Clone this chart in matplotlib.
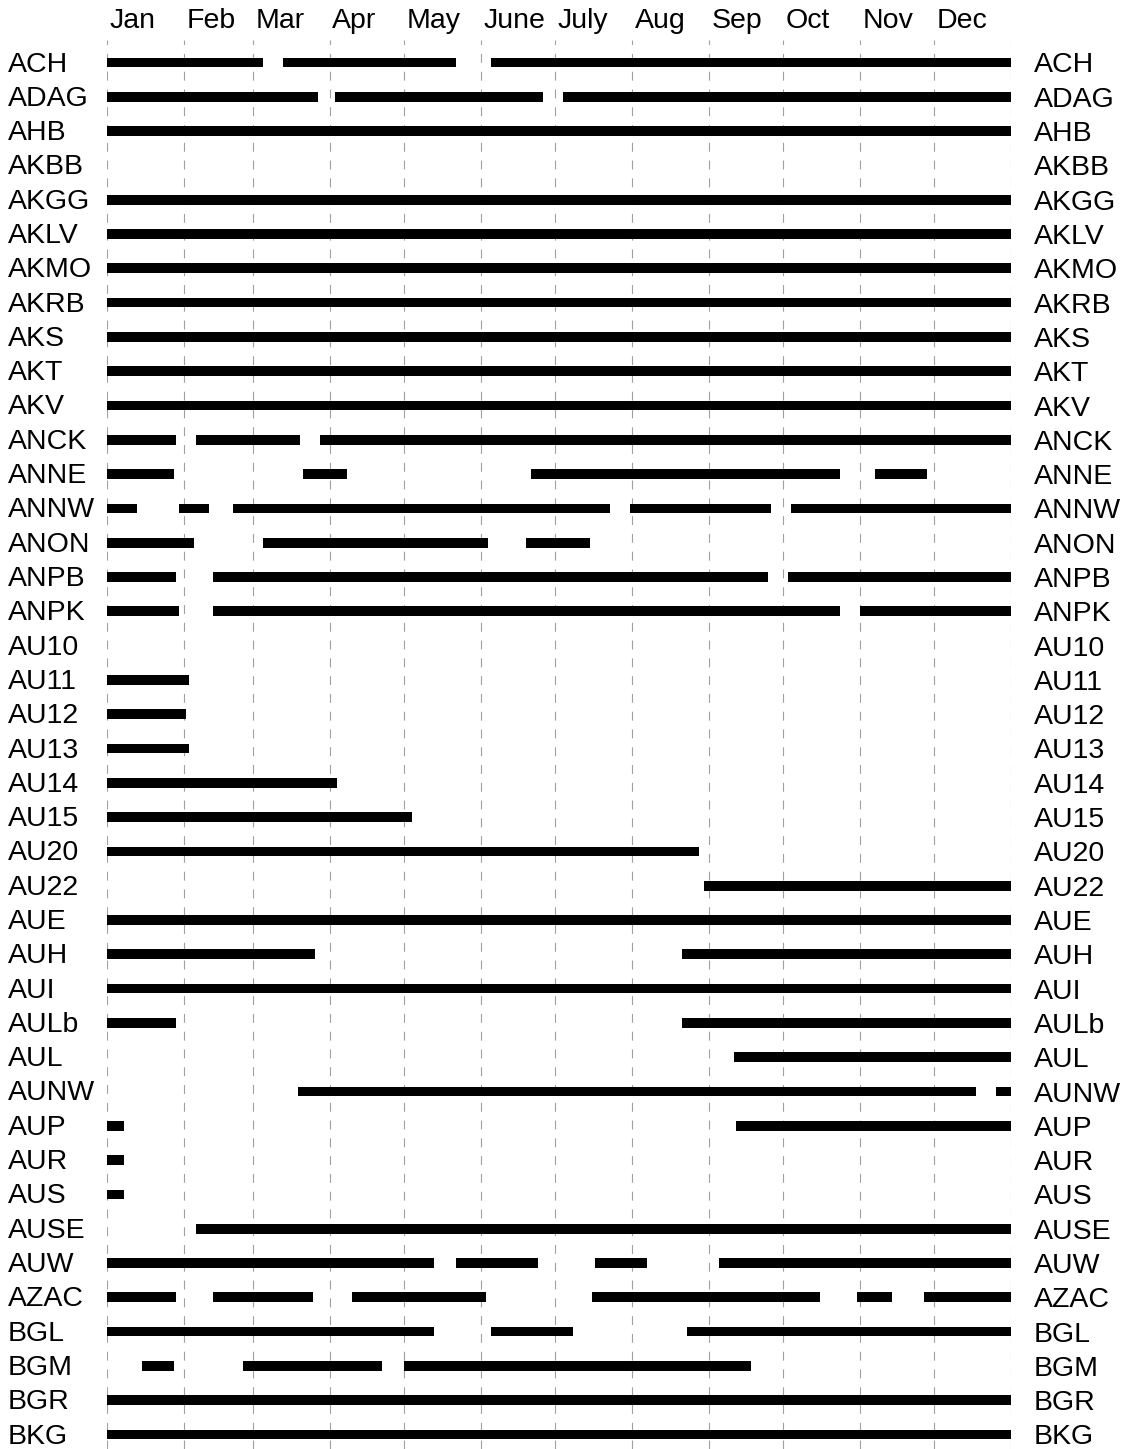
import matplotlib
matplotlib.use("Agg")
import matplotlib.pyplot as plt
from matplotlib import transforms

plt.rcParams["font.family"] = ["Liberation Sans", "DejaVu Sans"]

# Stations, top to bottom
stations = ["ACH", "ADAG", "AHB", "AKBB", "AKGG", "AKLV", "AKMO", "AKRB", "AKS",
            "AKT", "AKV", "ANCK", "ANNE", "ANNW", "ANON", "ANPB", "ANPK", "AU10",
            "AU11", "AU12", "AU13", "AU14", "AU15", "AU20", "AU22", "AUE", "AUH",
            "AUI", "AULb", "AUL", "AUNW", "AUP", "AUR", "AUS", "AUSE", "AUW",
            "AZAC", "BGL", "BGM", "BGR", "BKG"]

# Month names and the day of year on which each month begins
months = ["Jan", "Feb", "Mar", "Apr", "May", "June", "July", "Aug", "Sep",
          "Oct", "Nov", "Dec"]
month_start = [0, 31, 59, 90, 120, 151, 181, 212, 243, 273, 304, 334, 365]

# Periods with data: station, first day, last day (day of year)
span_station = ["ACH", "ACH", "ACH",
                "ADAG", "ADAG", "ADAG",
                "AHB", "AKGG", "AKLV", "AKMO", "AKRB", "AKS", "AKT", "AKV",
                "ANCK", "ANCK", "ANCK",
                "ANNE", "ANNE", "ANNE", "ANNE",
                "ANNW", "ANNW", "ANNW", "ANNW", "ANNW",
                "ANON", "ANON", "ANON",
                "ANPB", "ANPB", "ANPB",
                "ANPK", "ANPK", "ANPK",
                "AU11", "AU12", "AU13", "AU14", "AU15", "AU20", "AU22", "AUE",
                "AUH", "AUH",
                "AUI",
                "AULb", "AULb",
                "AUL",
                "AUNW", "AUNW",
                "AUP", "AUP",
                "AUR", "AUS", "AUSE",
                "AUW", "AUW", "AUW", "AUW",
                "AZAC", "AZAC", "AZAC", "AZAC", "AZAC", "AZAC",
                "BGL", "BGL", "BGL",
                "BGM", "BGM", "BGM",
                "BGR", "BKG"]
span_start = [0, 71, 155,
              0, 92, 184,
              0, 0, 0, 0, 0, 0, 0, 0,
              0, 36, 86,
              0, 79, 171, 310,
              0, 29, 51, 211, 276,
              0, 63, 169,
              0, 43, 275,
              0, 43, 304,
              0, 0, 0, 0, 0, 0, 241, 0,
              0, 232,
              0,
              0, 232,
              253,
              77, 359,
              0, 254,
              0, 0, 36,
              0, 141, 197, 247,
              0, 43, 99, 196, 303, 330,
              0, 155, 234,
              14, 55, 120,
              0, 0]
span_end = [63, 141, 365,
            85, 176, 365,
            365, 365, 365, 365, 365, 365, 365, 365,
            28, 78, 365,
            27, 97, 296, 331,
            12, 41, 203, 268, 365,
            35, 154, 195,
            28, 267, 365,
            29, 296, 365,
            33, 32, 33, 93, 123, 239, 365, 365,
            84, 365,
            365,
            28, 365,
            365,
            351, 365,
            7, 365,
            7, 7, 365,
            132, 174, 218, 365,
            28, 83, 153, 288, 317, 365,
            132, 188, 365,
            27, 111, 260,
            365, 365]

W, H = 1124, 1449
fig = plt.figure(figsize=(W / 100, H / 100), dpi=100)
fig.patch.set_facecolor("white")

# Plot area in pixels: x from 107 to 1011, y from 40 (top) to the bottom edge
x0, x1, ytop = 107, 1011, 40
ax = fig.add_axes([x0 / W, 0, (x1 - x0) / W, (H - ytop) / H])
for s in ax.spines.values():
    s.set_visible(False)
ax.set_xticks([])
ax.set_yticks([])

row0, row_step = 62.5, 34.3
ax.set_xlim(0, 365)
ax.set_ylim((H - row0) / row_step, (ytop - row0) / row_step)

# Dashed month boundaries
for d in month_start:
    ax.axvline(d, color="#a0a0a0", lw=0.8, ls=(0, (8, 8)), zorder=1)

# Data availability bars
bar_h = 0.28
row_of = {name: i for i, name in enumerate(stations)}
for name in stations:
    ranges = [(a, b - a) for st, a, b in zip(span_station, span_start, span_end)
              if st == name]
    if ranges:
        i = row_of[name]
        ax.broken_barh(ranges, (i - bar_h / 2, bar_h), facecolors="black",
                       edgecolor="none", zorder=3)

fs = 20.5
# Station names on both sides
left_tr = transforms.offset_copy(
    transforms.blended_transform_factory(fig.transFigure, ax.transData),
    fig=fig, y=-9, units="dots")
right_tr = transforms.offset_copy(
    transforms.blended_transform_factory(fig.transFigure, ax.transData),
    fig=fig, y=-10, units="dots")
for i, name in enumerate(stations):
    ax.text(8 / W, i, name, transform=left_tr, ha="left", va="baseline",
            fontsize=fs, color="black", clip_on=False)
    ax.text(1034 / W, i, name, transform=right_tr, ha="left", va="baseline",
            fontsize=fs, color="black", clip_on=False)

# Month names along the top
top_tr = transforms.blended_transform_factory(ax.transData, fig.transFigure)
for m, d in zip(months, month_start[:-1]):
    ax.text(d + 1, 1 - 28 / H, m, transform=top_tr, ha="left", va="baseline",
            fontsize=fs, color="black", clip_on=False)

fig.savefig("out.png", dpi=100, facecolor="white")
